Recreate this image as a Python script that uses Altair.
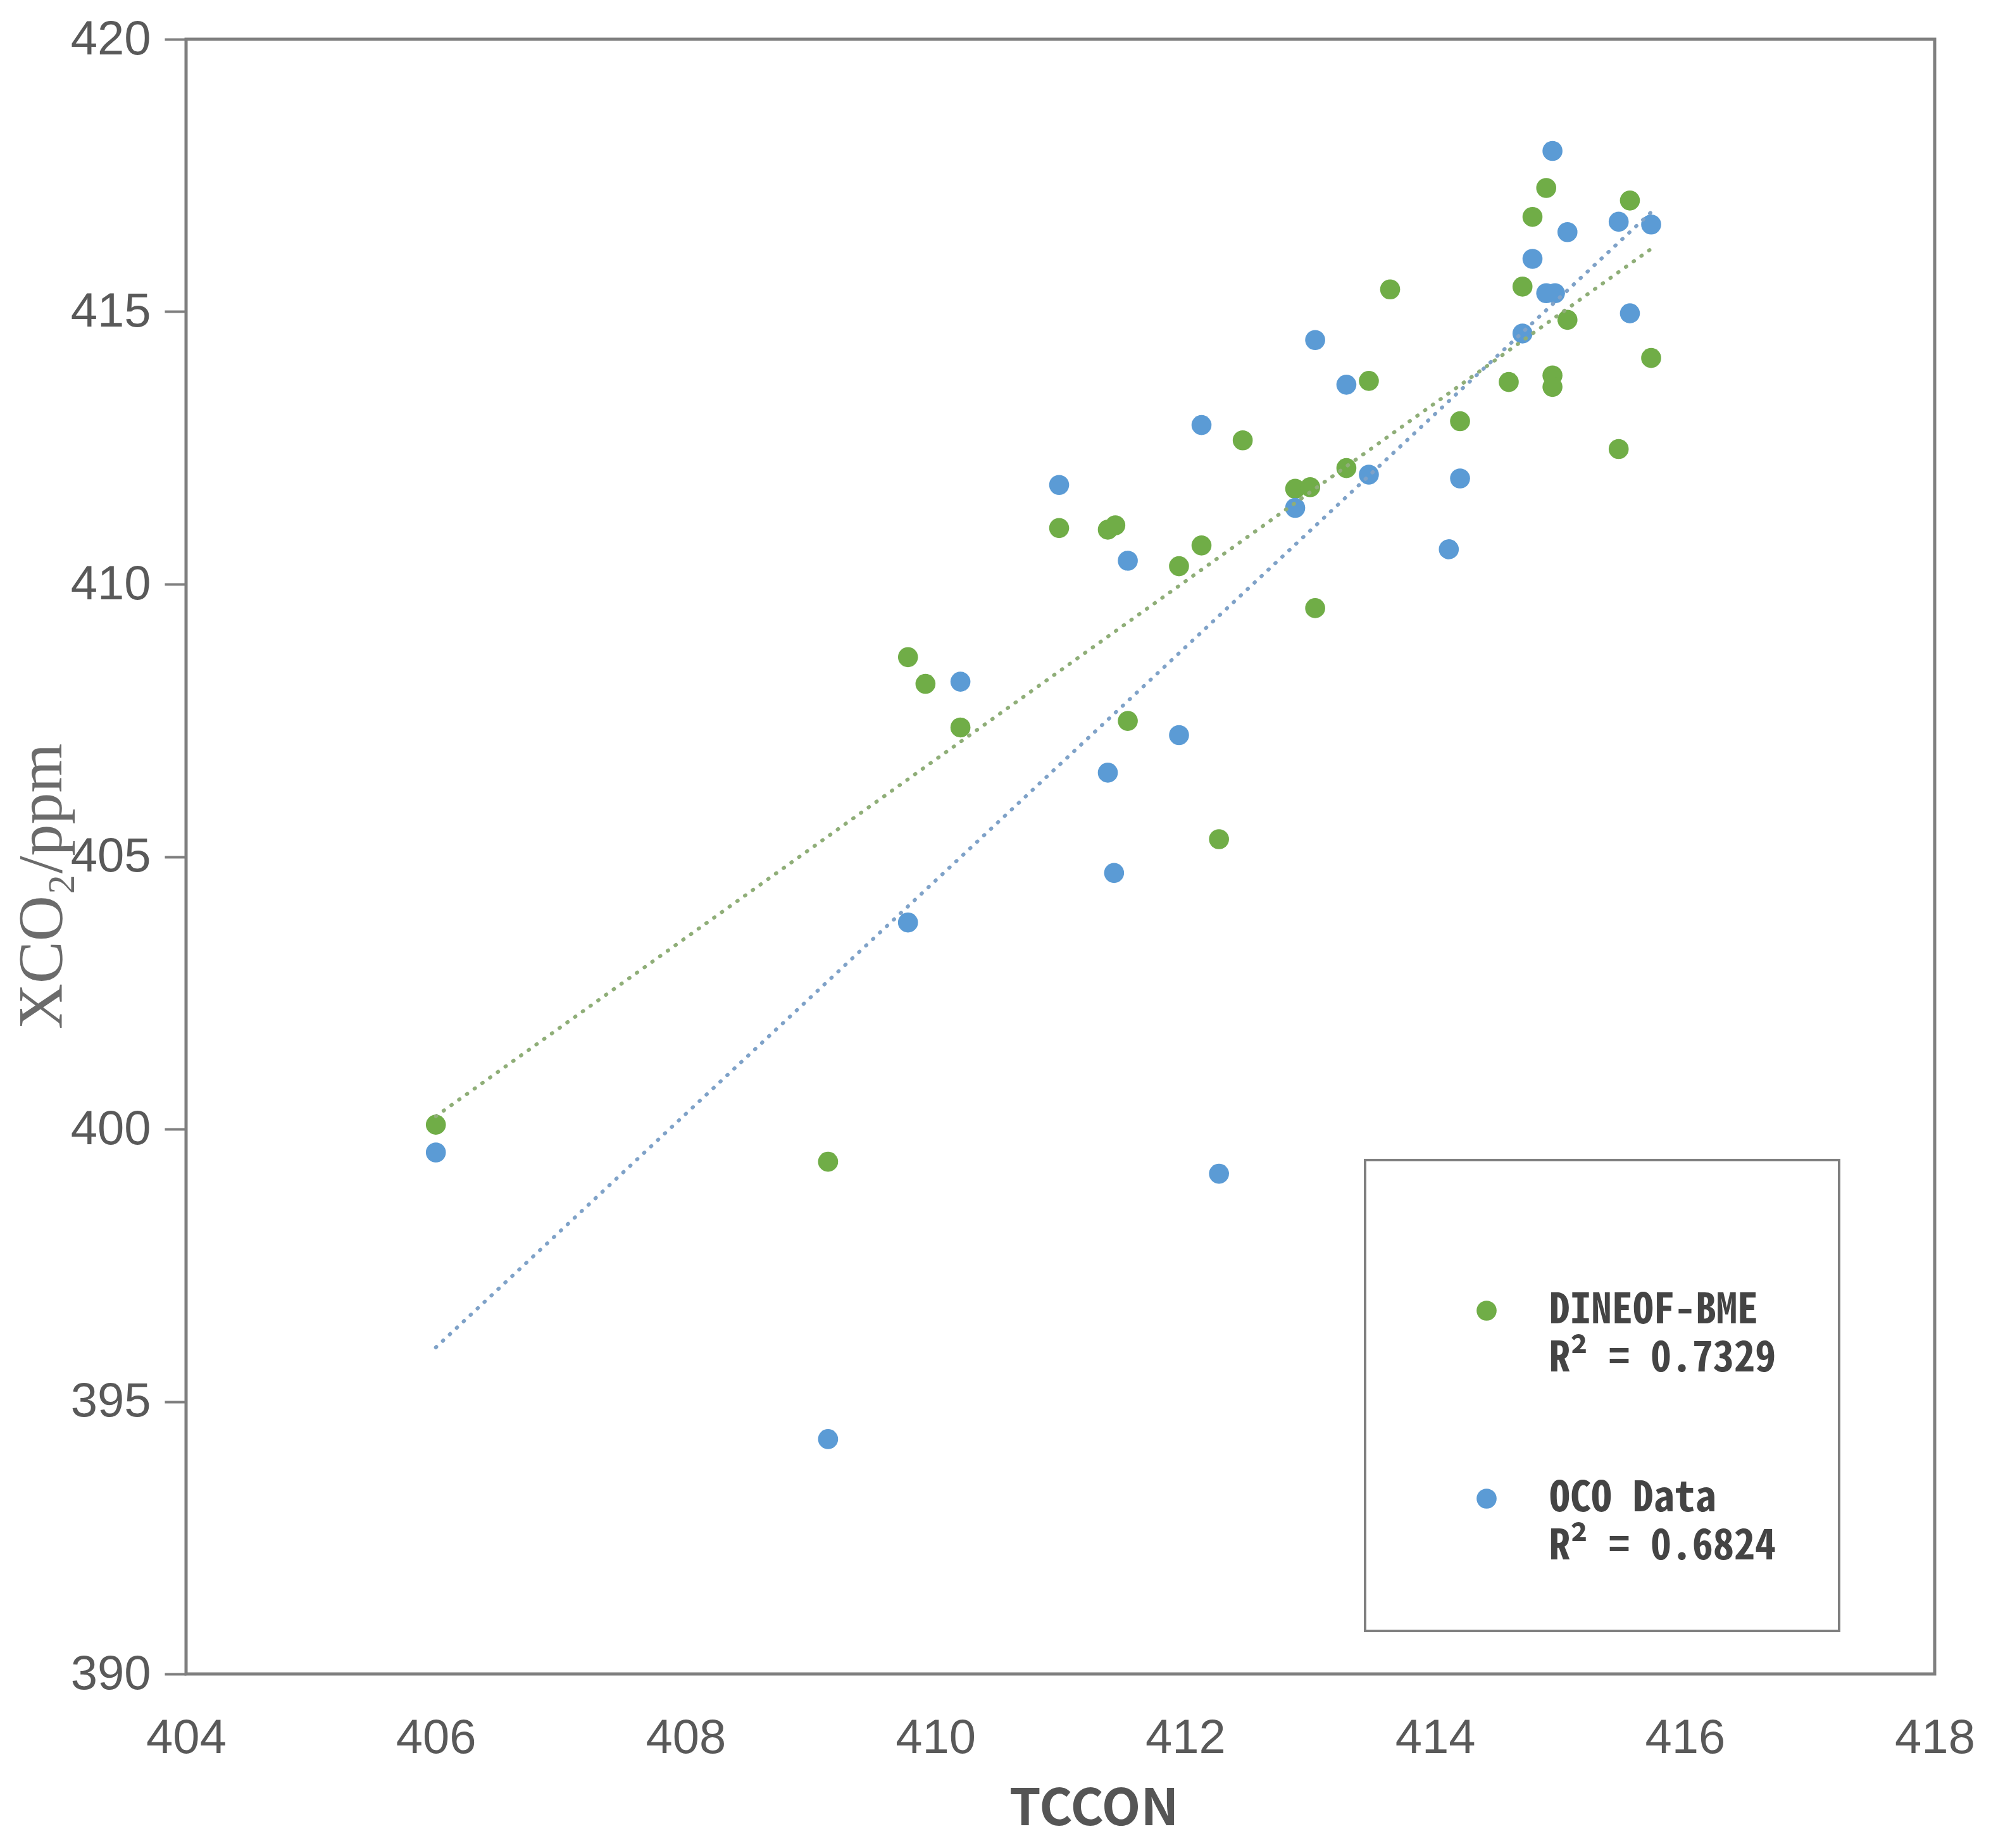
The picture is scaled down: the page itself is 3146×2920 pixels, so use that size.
import altair as alt
import pandas as pd

# DINEOF-BME vs TCCON
tccon_dineof = [406.00, 409.14, 409.78, 409.92, 410.20, 410.99, 411.38, 411.44, 411.54, 411.95,
                412.13, 412.27, 412.46, 412.88, 413.00, 413.04, 413.29, 413.47, 413.64, 414.20,
                414.59, 414.70, 414.78, 414.89, 414.94, 414.94, 415.06, 415.47, 415.56, 415.73]
xco2_dineof = [400.08, 399.40, 408.66, 408.17, 407.37, 411.03, 411.00, 411.08, 407.49, 410.33,
               410.71, 405.32, 412.64, 411.75, 411.78, 409.56, 412.13, 413.73, 415.41, 412.99,
               413.71, 415.46, 416.74, 417.27, 413.83, 413.62, 414.85, 412.48, 417.04, 414.15]

# OCO data vs TCCON
tccon_oco = [406.00, 409.14, 409.78, 410.20, 410.99, 411.38, 411.43, 411.54, 411.95, 412.13,
             412.27, 412.88, 413.04, 413.29, 413.47, 414.11, 414.20, 414.70, 414.78, 414.89,
             414.96, 414.94, 415.06, 415.47, 415.56, 415.73]
xco2_oco = [399.57, 394.31, 403.79, 408.21, 411.82, 406.54, 404.70, 410.43, 407.23, 412.92,
            399.18, 411.40, 414.48, 413.66, 412.01, 410.64, 411.94, 414.60, 415.97, 415.34,
            415.34, 417.95, 416.46, 416.65, 414.97, 416.60]

series_names = ["DINEOF-BME", "OCO Data"]
r2_labels = ["R\u00b2 = 0.7329", "R\u00b2 = 0.6824"]
point_colors = ["#70AD47", "#5B9BD5"]
line_colors = ["#8fae78", "#7fa2c8"]
x_ticks = [404, 406, 408, 410, 412, 414, 416, 418]
y_ticks = [390, 395, 400, 405, 410, 415, 420]

df = pd.concat([
    pd.DataFrame({"tccon": tccon_dineof, "xco2": xco2_dineof, "series": series_names[0]}),
    pd.DataFrame({"tccon": tccon_oco, "xco2": xco2_oco, "series": series_names[1]}),
], ignore_index=True)

label_expr = "datum.label == '{0}' ? ['{0}', '{1}'] : ['{2}', '{3}']".format(
    series_names[0], r2_labels[0], series_names[1], r2_labels[1])

x_enc = alt.X("tccon:Q",
              scale=alt.Scale(domain=[404, 418], nice=False, zero=False),
              axis=alt.Axis(values=x_ticks, title="TCCON", ticks=False, tickSize=0,
                            labelFlush=False,
                            labelFont="Liberation Sans", labelFontSize=76, labelColor="#595959",
                            labelPadding=64,
                            titleFont="Noto Sans CJK SC, Liberation Sans",
                            titleFontSize=80,
                            titleFontWeight="bold", titleColor="#555555",
                            titleX=1434, titleY=214, titleBaseline="middle", titleAlign="center"))
y_enc = alt.Y("xco2:Q",
              scale=alt.Scale(domain=[390, 420], nice=False, zero=False),
              axis=alt.Axis(values=y_ticks, title="XCO\u2082/ppm", ticks=True, tickSize=34,
                            tickWidth=4, tickColor="#7f7f7f", labelFlush=False,
                            labelFont="Liberation Sans", labelFontSize=76, labelColor="#595959",
                            labelPadding=22,
                            titleFont="Liberation Serif, DejaVu Serif, serif", titleFontSize=100,
                            titleFontWeight="normal", titleColor="#6b6b6b",
                            titleAngle=-90, titleX=-228, titleY=1338,
                            titleBaseline="middle", titleAlign="center"))

color_enc = alt.Color("series:N",
                      scale=alt.Scale(domain=series_names, range=point_colors),
                      legend=alt.Legend(title=" ", titleFontSize=60, titlePadding=45,
                                        orient="none", legendX=1863, legendY=1771,
                                        direction="vertical", padding=100, rowPadding=155,
                                        strokeColor="#7f7f7f", fillColor="white",
                                        symbolType="circle", symbolSize=1000,
                                        symbolOffset=59,
                                        symbolStrokeWidth=0, symbolOpacity=1,
                                        labelFont="Noto Sans Mono CJK SC, Liberation Mono",
                                        labelFontSize=66,
                                        labelFontWeight="bold",
                                        labelColor="#444444", labelOffset=66,
                                        labelLimit=2000, labelBaseline="middle",
                                        labelExpr=label_expr))

points = alt.Chart(df).mark_circle(size=1000, opacity=1).encode(
    x=x_enc, y=y_enc, color=color_enc)

lines = alt.Chart(df).transform_regression(
    "tccon", "xco2", groupby=["series"]
).mark_line(strokeDash=[1, 14], strokeWidth=6, strokeCap="round").encode(
    x=x_enc, y=y_enc,
    stroke=alt.Stroke("series:N", scale=alt.Scale(domain=series_names, range=line_colors),
                      legend=None))

chart = alt.layer(points, lines).properties(
    width=2763, height=2583,
    autosize=alt.AutoSizeParams(type="none"),
    padding={"left": 286, "top": 54, "right": 80, "bottom": 260},
    background="white",
).configure(
    style={"guide-label": {"lineHeight": 76}}
).configure_view(
    stroke="#7f7f7f", strokeWidth=5
).configure_axis(
    grid=False, domain=False
).configure_legend(
    strokeWidth=4
)

chart.save("out.html", embed_options={"renderer": "svg", "actions": False})
